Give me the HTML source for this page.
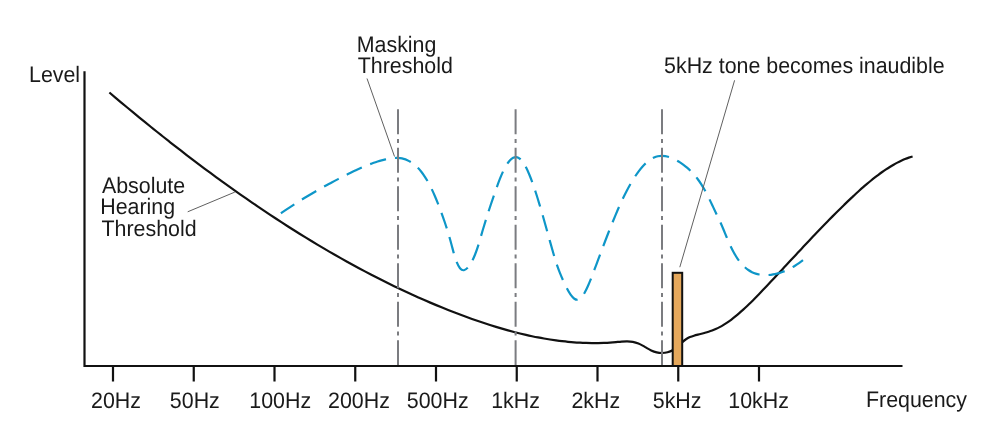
<!DOCTYPE html>
<html><head><meta charset="utf-8">
<style>
html,body{margin:0;padding:0;background:#fff;}
body{width:1000px;height:448px;overflow:hidden;}
svg{display:block;will-change:transform;}
text{text-rendering:geometricPrecision;font-family:"Liberation Sans",Arial,Helvetica,sans-serif;font-size:21.4px;fill:#1a1a1a;}
</style></head><body>
<svg width="1000" height="448" viewBox="0 0 1000 448">
<rect width="1000" height="448" fill="#fff"/>


<!-- black threshold curve -->
<path d="M109.40 92.51 C111.38 94.19 113.36 95.87 115.34 97.54 C117.32 99.22 119.30 100.88 121.28 102.54 C123.27 104.20 125.25 105.86 127.23 107.51 C129.21 109.16 131.19 110.80 133.17 112.43 C135.15 114.07 137.13 115.70 139.11 117.32 C141.09 118.95 143.07 120.56 145.05 122.17 C147.04 123.78 149.02 125.39 151.00 126.99 C152.98 128.58 154.96 130.18 156.94 131.76 C158.92 133.35 160.90 134.92 162.88 136.50 C164.86 138.07 166.84 139.63 168.82 141.19 C170.80 142.75 172.79 144.30 174.77 145.85 C176.75 147.39 178.73 148.93 180.71 150.47 C182.69 152.00 184.67 153.52 186.65 155.04 C188.63 156.56 190.61 158.07 192.59 159.58 C194.57 161.08 196.55 162.58 198.54 164.07 C200.52 165.56 202.50 167.04 204.48 168.52 C206.46 170.00 208.44 171.47 210.42 172.93 C212.40 174.39 214.38 175.85 216.36 177.29 C218.34 178.74 220.32 180.18 222.31 181.62 C224.29 183.05 226.27 184.48 228.25 185.90 C230.23 187.32 232.21 188.73 234.19 190.13 C236.17 191.54 238.15 192.94 240.13 194.33 C242.11 195.72 244.09 197.10 246.07 198.47 C248.06 199.85 250.04 201.21 252.02 202.57 C254.00 203.93 255.98 205.29 257.96 206.63 C259.94 207.97 261.92 209.31 263.90 210.64 C265.88 211.97 267.86 213.29 269.84 214.60 C271.82 215.92 273.81 217.22 275.79 218.52 C277.77 219.82 279.75 221.11 281.73 222.39 C283.71 223.67 285.69 224.95 287.67 226.21 C289.65 227.48 291.63 228.74 293.61 229.99 C295.59 231.24 297.58 232.48 299.56 233.72 C301.54 234.95 303.52 236.17 305.50 237.39 C307.48 238.61 309.46 239.82 311.44 241.02 C313.42 242.22 315.40 243.41 317.38 244.60 C319.36 245.78 321.34 246.96 323.33 248.13 C325.31 249.30 327.29 250.46 329.27 251.61 C331.25 252.76 333.23 253.90 335.21 255.03 C337.19 256.17 339.17 257.29 341.15 258.41 C343.13 259.53 345.11 260.63 347.09 261.73 C349.08 262.83 351.06 263.92 353.04 265.01 C355.02 266.09 357.00 267.16 358.98 268.23 C360.96 269.29 362.94 270.35 364.92 271.39 C366.90 272.44 368.88 273.48 370.86 274.51 C372.85 275.54 374.83 276.56 376.81 277.57 C378.79 278.58 380.77 279.58 382.75 280.57 C384.73 281.57 386.71 282.55 388.69 283.53 C390.67 284.50 392.65 285.47 394.63 286.42 C396.61 287.38 398.60 288.33 400.58 289.26 C402.56 290.20 404.54 291.13 406.52 292.05 C408.50 292.97 410.48 293.88 412.46 294.78 C414.44 295.68 416.42 296.57 418.40 297.45 C420.38 298.33 422.36 299.20 424.35 300.07 C426.33 300.93 428.31 301.78 430.29 302.63 C432.27 303.47 434.25 304.30 436.23 305.13 C438.21 305.95 440.19 306.76 442.17 307.57 C444.15 308.37 446.13 309.17 448.12 309.95 C450.10 310.74 452.08 311.51 454.06 312.28 C456.04 313.04 458.02 313.80 460.00 314.54 C462.00 315.30 464.00 316.04 466.00 316.77 C468.00 317.50 470.00 318.22 472.00 318.93 C474.00 319.64 476.00 320.34 478.00 321.03 C480.00 321.71 482.00 322.39 484.00 323.05 C486.00 323.71 488.00 324.36 490.00 324.99 C492.00 325.63 494.00 326.25 496.00 326.86 C498.00 327.47 500.00 328.07 502.00 328.65 C504.00 329.23 506.00 329.79 508.00 330.35 C510.00 330.90 512.00 331.43 514.00 331.96 C516.00 332.48 518.00 332.98 520.00 333.47 C522.00 333.96 524.00 334.43 526.00 334.89 C528.00 335.35 530.00 335.79 532.00 336.21 C534.00 336.63 536.00 337.04 538.00 337.42 C540.00 337.81 542.00 338.18 544.00 338.53 C546.00 338.88 548.00 339.21 550.00 339.53 C552.00 339.84 554.00 340.13 556.00 340.41 C558.00 340.68 560.00 340.94 562.00 341.17 C564.00 341.40 566.00 341.62 568.00 341.81 C570.00 342.00 572.00 342.18 574.00 342.33 C576.00 342.48 578.00 342.60 580.00 342.71 C582.00 342.82 584.00 342.90 586.00 342.96 C588.00 343.03 590.00 343.06 592.00 343.08 C594.00 343.10 596.00 343.09 598.00 343.06 C600.00 343.03 602.00 342.97 604.00 342.89 C606.00 342.81 608.00 342.71 610.00 342.58 C612.00 342.45 614.00 342.29 616.00 342.11 C617.87 341.94 619.73 341.75 621.60 341.61 C623.47 341.47 625.33 341.37 627.20 341.39 C629.07 341.42 630.93 341.56 632.80 341.89 C634.67 342.22 636.53 342.74 638.40 343.51 C639.82 344.10 641.24 344.85 642.67 345.65 C644.09 346.45 645.51 347.31 646.93 348.13 C648.36 348.96 649.78 349.75 651.20 350.42 C653.02 351.27 654.83 351.93 656.65 352.36 C658.47 352.79 660.28 353.01 662.10 352.98 C663.92 352.96 665.73 352.71 667.55 352.20 C669.37 351.70 671.18 350.94 673.00 349.92" fill="none" stroke="#111" stroke-width="2.2" stroke-linejoin="round"/>
<path d="M682.00 342.44 C683.33 341.15 684.65 340.09 685.98 339.22 C687.30 338.35 688.62 337.66 689.95 337.09 C691.27 336.52 692.60 336.07 693.92 335.68 C695.25 335.29 696.57 334.96 697.90 334.63 C699.09 334.34 700.27 334.05 701.46 333.75 C702.65 333.44 703.83 333.13 705.02 332.80 C706.21 332.47 707.39 332.13 708.58 331.75 C709.77 331.37 710.95 330.97 712.14 330.52 C713.33 330.08 714.51 329.60 715.70 329.07 C717.01 328.48 718.32 327.84 719.63 327.14 C720.94 326.45 722.25 325.70 723.56 324.89 C724.87 324.09 726.18 323.24 727.49 322.34 C728.80 321.45 730.11 320.50 731.42 319.52 C732.73 318.53 734.04 317.51 735.35 316.44 C736.66 315.38 737.97 314.28 739.28 313.15 C740.59 312.01 741.91 310.85 743.22 309.65 C744.53 308.45 745.84 307.23 747.15 305.98 C748.46 304.73 749.77 303.46 751.08 302.16 C752.39 300.87 753.70 299.56 755.01 298.22 C756.32 296.89 757.63 295.55 758.94 294.19 C760.25 292.83 761.56 291.46 762.87 290.08 C764.18 288.70 765.49 287.32 766.80 285.93 C768.09 284.56 769.38 283.19 770.67 281.82 C771.96 280.45 773.24 279.07 774.53 277.69 C775.82 276.32 777.11 274.94 778.40 273.56 C779.69 272.18 780.98 270.79 782.27 269.41 C783.56 268.03 784.84 266.64 786.13 265.26 C787.42 263.87 788.71 262.49 790.00 261.11 C791.29 259.72 792.58 258.34 793.87 256.95 C795.16 255.57 796.44 254.19 797.73 252.81 C799.02 251.43 800.31 250.05 801.60 248.67 C802.89 247.30 804.18 245.92 805.47 244.55 C806.76 243.18 808.04 241.81 809.33 240.45 C810.62 239.08 811.91 237.72 813.20 236.36 C814.49 235.01 815.78 233.65 817.07 232.31 C818.36 230.96 819.64 229.61 820.93 228.27 C822.22 226.94 823.51 225.60 824.80 224.27 C826.09 222.95 827.38 221.63 828.67 220.31 C829.96 219.00 831.24 217.69 832.53 216.39 C833.82 215.09 835.11 213.79 836.40 212.51 C837.69 211.22 838.98 209.94 840.27 208.67 C841.56 207.40 842.84 206.14 844.13 204.89 C845.42 203.63 846.71 202.39 848.00 201.16 C849.27 199.94 850.53 198.74 851.80 197.55 C853.07 196.36 854.33 195.17 855.60 194.01 C856.87 192.84 858.13 191.68 859.40 190.54 C860.67 189.40 861.93 188.28 863.20 187.17 C864.47 186.06 865.73 184.97 867.00 183.89 C868.27 182.82 869.53 181.77 870.80 180.73 C872.07 179.70 873.33 178.68 874.60 177.69 C875.87 176.70 877.13 175.73 878.40 174.78 C879.67 173.84 880.93 172.92 882.20 172.02 C883.47 171.12 884.73 170.25 886.00 169.41 C887.27 168.57 888.53 167.76 889.80 166.97 C891.07 166.19 892.33 165.43 893.60 164.71 C894.87 163.98 896.13 163.29 897.40 162.63 C898.67 161.97 899.93 161.35 901.20 160.76 C902.47 160.17 903.73 159.61 905.00 159.09 C906.27 158.57 907.53 158.09 908.80 157.65 C910.07 157.21 911.33 156.80 912.60 156.44" fill="none" stroke="#111" stroke-width="2.2" stroke-linejoin="round"/>
<!-- blue masking curve -->
<path d="M280.90 213.24 C282.18 212.37 283.46 211.49 284.74 210.63 C286.02 209.77 287.30 208.92 288.58 208.07 C289.86 207.23 291.14 206.39 292.42 205.56 C293.70 204.73 294.98 203.91 296.26 203.10 C297.55 202.28 298.83 201.48 300.11 200.68 C301.39 199.88 302.67 199.09 303.95 198.31 C305.23 197.53 306.51 196.76 307.79 195.99 C309.07 195.22 310.35 194.46 311.63 193.71 C312.91 192.95 314.19 192.21 315.47 191.47 C316.75 190.73 318.03 190.00 319.31 189.27 C320.59 188.54 321.87 187.83 323.15 187.11 C324.43 186.40 325.71 185.69 326.99 184.99 C328.27 184.29 329.55 183.60 330.84 182.91 C332.12 182.23 333.40 181.54 334.68 180.87 C335.96 180.19 337.24 179.52 338.52 178.86 C339.80 178.20 341.08 177.54 342.36 176.88 C343.64 176.23 344.92 175.58 346.20 174.94 C347.51 174.29 348.82 173.63 350.13 172.99 C351.44 172.35 352.75 171.71 354.06 171.09 C355.37 170.46 356.68 169.85 357.99 169.25 C359.30 168.64 360.61 168.06 361.92 167.48 C363.23 166.91 364.54 166.35 365.85 165.81 C367.16 165.27 368.47 164.75 369.78 164.25 C371.09 163.75 372.40 163.27 373.71 162.81 C375.02 162.35 376.33 161.92 377.64 161.51 C378.95 161.10 380.26 160.71 381.57 160.36 C382.88 160.00 384.19 159.67 385.50 159.38 C386.71 159.10 387.93 158.85 389.14 158.64 C390.36 158.43 391.57 158.26 392.79 158.14 C394.00 158.03 395.21 157.96 396.43 157.97 C397.64 157.97 398.86 158.04 400.07 158.20 C401.29 158.35 402.50 158.58 403.71 158.91 C404.93 159.23 406.14 159.66 407.36 160.19 C408.57 160.72 409.79 161.36 411.00 162.12 C412.14 162.83 413.29 163.66 414.43 164.60 C415.58 165.54 416.72 166.60 417.87 167.79 C419.01 168.98 420.16 170.30 421.30 171.75 C422.44 173.21 423.59 174.80 424.73 176.54 C425.88 178.28 427.02 180.16 428.17 182.21 C429.31 184.25 430.46 186.45 431.60 188.82 C432.64 190.98 433.69 193.28 434.73 195.71 C435.78 198.13 436.82 200.67 437.87 203.32 C438.91 205.96 439.96 208.71 441.00 211.55 C442.20 214.81 443.40 218.18 444.60 221.73 C445.80 225.27 447.00 229.00 448.20 232.98 C449.40 236.95 450.60 241.17 451.80 245.71 C452.43 248.10 453.07 250.58 453.70 252.85 C454.75 256.63 455.80 259.85 456.85 262.45 C457.90 265.05 458.95 267.03 460.00 268.31 C461.30 269.91 462.60 270.44 463.90 270.22 C465.20 270.00 466.50 269.02 467.80 267.58 C469.01 266.24 470.22 264.49 471.43 262.32 C472.64 260.16 473.86 257.56 475.07 254.51 C476.28 251.46 477.49 247.96 478.70 243.97 C479.47 241.45 480.23 238.74 481.00 236.08 C482.07 232.35 483.15 228.73 484.23 225.21 C485.30 221.68 486.38 218.25 487.45 214.89 C488.52 211.53 489.60 208.24 490.67 205.02 C491.75 201.79 492.82 198.62 493.90 195.49 C494.91 192.54 495.92 189.63 496.93 186.81 C497.94 184.00 498.96 181.28 499.97 178.72 C500.98 176.16 501.99 173.76 503.00 171.58 C504.13 169.13 505.27 166.96 506.40 165.10 C507.53 163.23 508.67 161.67 509.80 160.43 C510.93 159.20 512.07 158.29 513.20 157.73 C514.33 157.18 515.47 156.98 516.60 157.15 C517.73 157.32 518.87 157.88 520.00 158.83 C521.04 159.71 522.08 160.93 523.12 162.45 C524.17 163.96 525.21 165.77 526.25 167.84 C527.29 169.90 528.33 172.21 529.38 174.74 C530.42 177.26 531.46 179.99 532.50 182.89 C533.65 186.08 534.79 189.46 535.94 193.00 C537.09 196.55 538.23 200.25 539.38 204.06 C540.53 207.88 541.67 211.81 542.82 215.81 C543.97 219.82 545.11 223.89 546.26 228.01 C547.41 232.12 548.55 236.26 549.70 240.40 C550.87 244.61 552.03 248.81 553.20 252.82 C554.37 256.83 555.53 260.66 556.70 264.13 C557.77 267.30 558.83 270.16 559.90 272.84 C560.97 275.51 562.03 277.99 563.10 280.38 C564.35 283.18 565.60 285.87 566.85 288.30 C568.10 290.73 569.35 292.91 570.60 294.70 C571.85 296.48 573.10 297.88 574.35 298.75 C575.60 299.62 576.85 299.95 578.10 299.63 C579.21 299.34 580.31 298.53 581.42 297.30 C582.53 296.08 583.63 294.43 584.74 292.46 C585.85 290.50 586.95 288.22 588.06 285.72 C589.17 283.22 590.27 280.51 591.38 277.69 C592.49 274.86 593.59 271.93 594.70 268.98 C595.86 265.89 597.01 262.80 598.17 259.71 C599.33 256.61 600.49 253.52 601.64 250.44 C602.80 247.36 603.96 244.30 605.11 241.26 C606.27 238.23 607.43 235.22 608.59 232.25 C609.74 229.29 610.90 226.36 612.06 223.49 C613.21 220.62 614.37 217.80 615.53 215.05 C616.69 212.30 617.84 209.61 619.00 207.01 C620.30 204.08 621.60 201.26 622.90 198.55 C624.20 195.83 625.50 193.23 626.80 190.73 C628.10 188.24 629.40 185.86 630.70 183.61 C632.00 181.35 633.30 179.22 634.60 177.21 C635.90 175.20 637.20 173.32 638.50 171.57 C639.80 169.82 641.10 168.21 642.40 166.74 C643.70 165.26 645.00 163.93 646.30 162.75 C647.60 161.56 648.90 160.52 650.20 159.63 C651.50 158.75 652.80 158.01 654.10 157.44 C655.33 156.90 656.57 156.50 657.80 156.22 C659.03 155.95 660.27 155.81 661.50 155.79 C662.73 155.76 663.97 155.86 665.20 156.05 C666.43 156.25 667.67 156.54 668.90 156.93 C670.13 157.31 671.37 157.79 672.60 158.34 C673.83 158.89 675.07 159.52 676.30 160.20 C677.53 160.89 678.77 161.64 680.00 162.44 C681.18 163.20 682.35 164.00 683.53 164.86 C684.70 165.73 685.88 166.65 687.06 167.64 C688.23 168.64 689.41 169.71 690.59 170.87 C691.76 172.03 692.94 173.28 694.11 174.63 C695.29 175.98 696.47 177.44 697.64 179.02 C698.82 180.60 700.00 182.29 701.17 184.13 C702.35 185.96 703.52 187.93 704.70 190.05 C705.99 192.37 707.28 194.87 708.57 197.47 C709.86 200.08 711.14 202.78 712.43 205.51 C713.72 208.24 715.01 210.98 716.30 213.67 C717.03 215.21 717.77 216.72 718.50 218.26 C719.23 219.80 719.97 221.37 720.70 223.01 C721.73 225.32 722.77 227.77 723.80 230.27 C724.83 232.77 725.87 235.31 726.90 237.79 C727.93 240.26 728.97 242.68 730.00 244.93 C731.22 247.59 732.44 250.03 733.67 252.25 C734.89 254.47 736.11 256.48 737.33 258.29 C738.56 260.11 739.78 261.74 741.00 263.19 C742.22 264.64 743.44 265.92 744.67 267.05 C745.89 268.18 747.11 269.16 748.33 270.00 C749.56 270.84 750.78 271.55 752.00 272.14 C753.22 272.74 754.44 273.22 755.67 273.61 C756.89 274.00 758.11 274.29 759.33 274.51 C760.56 274.73 761.78 274.88 763.00 274.97 C764.33 275.07 765.67 275.10 767.00 275.07 C768.33 275.04 769.67 274.94 771.00 274.79 C772.33 274.63 773.67 274.42 775.00 274.14 C776.33 273.86 777.67 273.53 779.00 273.13 C780.33 272.74 781.67 272.28 783.00 271.78 C784.33 271.27 785.67 270.70 787.00 270.08 C788.33 269.46 789.67 268.79 791.00 268.06 C792.33 267.34 793.67 266.56 795.00 265.73 C796.33 264.90 797.67 264.02 799.00 263.10 C800.33 262.17 801.67 261.19 803.00 260.17" fill="none" stroke="#0e96c8" stroke-width="2.2" stroke-dasharray="16.6 9.04" stroke-dashoffset="0.5"/>
<!-- gray dash-dot markers -->
<g stroke="#7b7c80" stroke-width="2" stroke-dasharray="25 4.8 3.8 4.9" fill="none">
<line x1="398" y1="109.3" x2="398" y2="366"/>
<line x1="515.6" y1="109.3" x2="515.6" y2="366"/>
<line x1="662" y1="109.3" x2="662" y2="366"/>
</g>
<!-- orange tone bar -->
<rect x="672.7" y="272.8" width="9.5" height="93.2" fill="#e5a85c" stroke="#111" stroke-width="2"/>
<!-- axes -->
<g stroke="#111" stroke-width="2.2" fill="none">
<path d="M84.5 71.3 V366 H902.5"/>
<path d="M113 366v15.5 M193.75 366v15.5 M274.5 366v15.5 M355.25 366v15.5 M436 366v15.5 M516.75 366v15.5 M597.5 366v15.5 M678.25 366v15.5 M759 366v15.5"/>
</g>
<!-- leader lines -->
<g stroke="#606060" stroke-width="1" fill="none">
<line x1="367" y1="78.5" x2="394.5" y2="156.5"/>
<line x1="187.7" y1="211.8" x2="234.8" y2="192.1"/>
<line x1="734.6" y1="80.3" x2="679.8" y2="267.2"/>
</g>
<!-- labels -->
<text transform="translate(28.99 81.90) scale(1 1.045)">Level</text>
<text transform="translate(356.74 51.60) scale(1 1.045)">Masking</text>
<text transform="translate(357.72 72.60) scale(1 1.045)">Threshold</text>
<text transform="translate(664.04 72.50) scale(1 1.045)">5kHz tone becomes inaudible</text>
<text transform="translate(101.96 192.80) scale(1 1.045)">Absolute</text>
<text transform="translate(100.24 213.80) scale(1 1.045)">Hearing</text>
<text transform="translate(101.52 235.60) scale(1 1.045)">Threshold</text>
<text transform="translate(91.02 408.00) scale(1 1.045)">20Hz</text>
<text transform="translate(169.84 408.00) scale(1 1.045)">50Hz</text>
<text transform="translate(249.27 408.00) scale(1 1.045)">100Hz</text>
<text transform="translate(328.02 408.00) scale(1 1.045)">200Hz</text>
<text transform="translate(406.74 408.00) scale(1 1.045)">500Hz</text>
<text transform="translate(491.17 408.00) scale(1 1.045)">1kHz</text>
<text transform="translate(571.42 408.00) scale(1 1.045)">2kHz</text>
<text transform="translate(652.74 408.00) scale(1 1.045)">5kHz</text>
<text transform="translate(728.27 408.00) scale(1 1.045)">10kHz</text>
<text transform="translate(865.94 407.10) scale(1 1.045)">Frequency</text>
</svg>
</body></html>
